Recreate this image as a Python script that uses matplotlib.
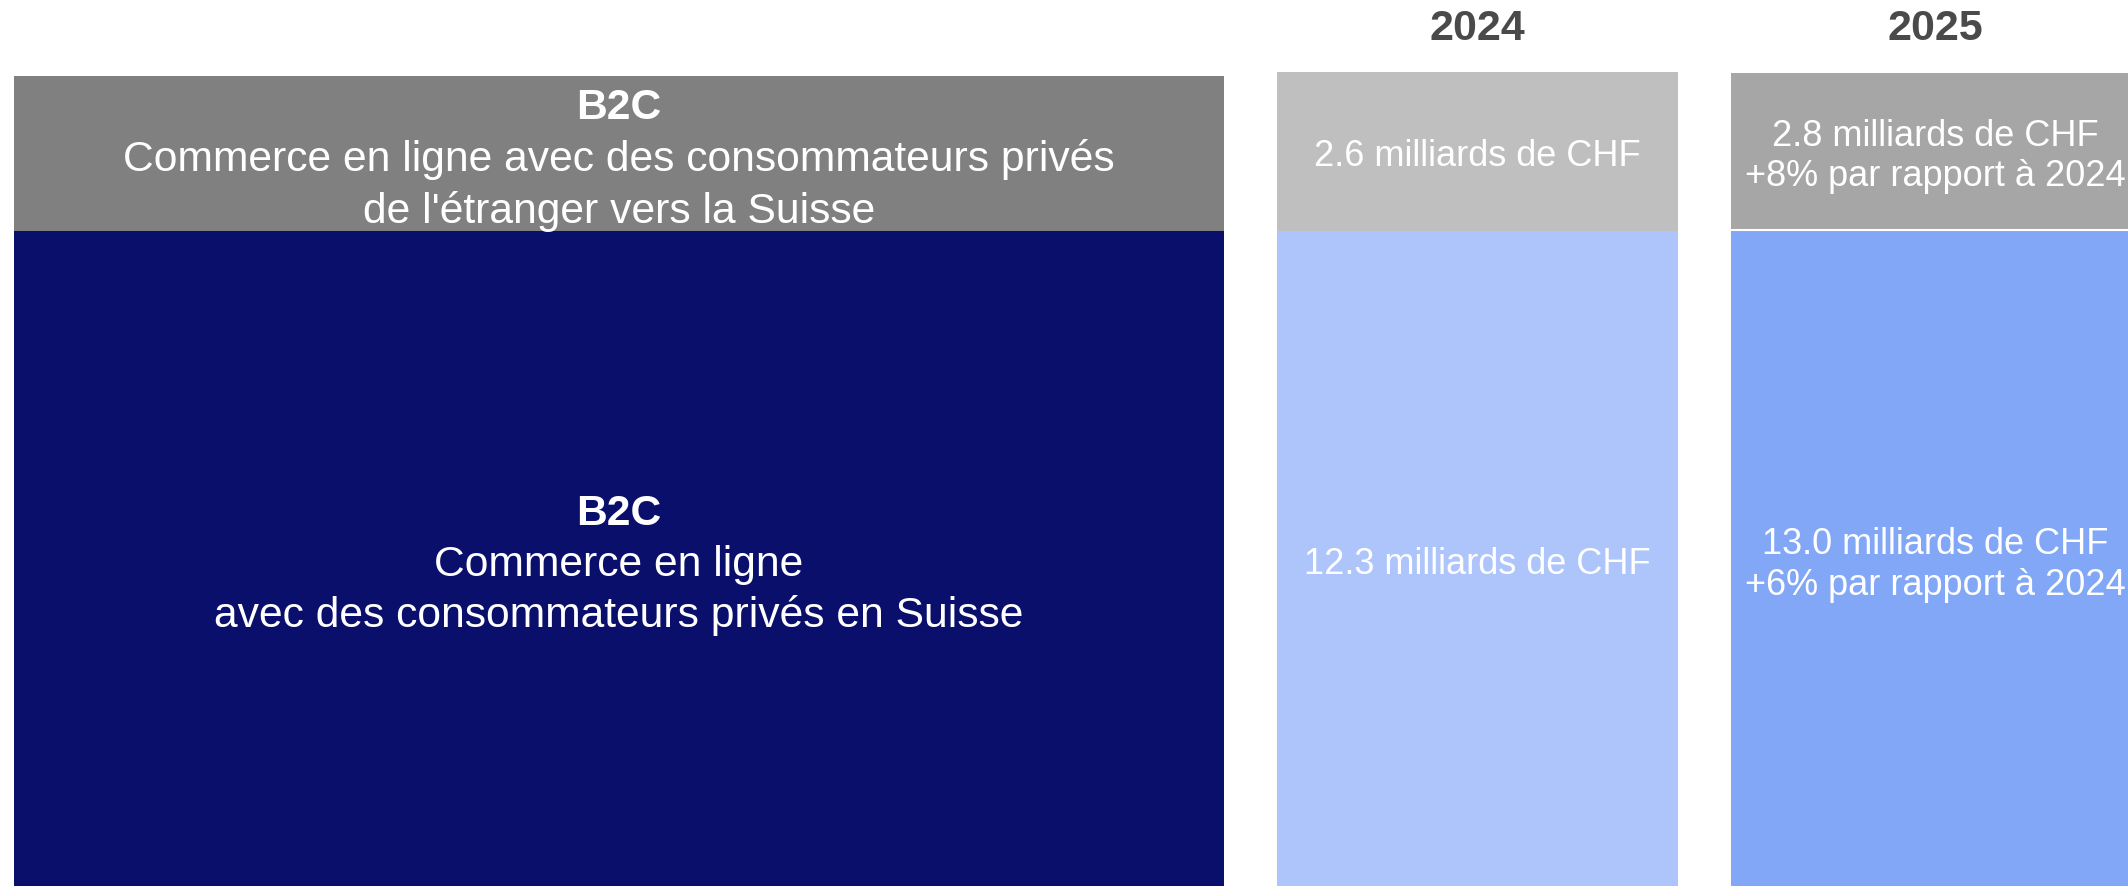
import matplotlib.pyplot as plt

# ---- data ----
years = ["2024", "2025"]
abroad_bn = [2.6, 2.8]          # B2C from abroad into Switzerland, bn CHF
domestic_bn = [12.3, 13.0]      # B2C within Switzerland, bn CHF
growth_abroad = [None, 8]       # % vs 2024
growth_domestic = [None, 6]

label_abroad = "B2C\nCommerce en ligne avec des consommateurs privés\nde l'étranger vers la Suisse"
label_domestic = "B2C\nCommerce en ligne\navec des consommateurs privés en Suisse"

# ---- layout (pixel space) ----
W, H = 2128, 887
split_y = 232
col_left = [1277, 1731]
col_width = [401, 409]
col_top = [73, 74]
col_gray = ["#BFBFBF", "#A6A6A6"]
col_blue = ["#ADC5FA", "#82A7F7"]

plt.rcParams['font.family'] = ['Liberation Sans', 'DejaVu Sans']

fig = plt.figure(figsize=(W / 100, H / 100), dpi=100)
ax = fig.add_axes([0, 0, 1, 1])
ax.set_xlim(0, W)
ax.set_ylim(H, 0)
ax.axis('off')

# left description panel
ax.bar(14, split_y - 77, bottom=77, width=1210, align='edge', color="#808080")
ax.bar(14, H - split_y, bottom=split_y, width=1210, align='edge', color="#0A0F6B")


def two_weight(x, y_top, text, size, step):
    lines = text.split("\n")
    ax.text(x, y_top, lines[0], ha='center', va='center', color='white',
            fontsize=size, fontweight='bold')
    for i, ln in enumerate(lines[1:]):
        ax.text(x, y_top + step * (i + 1), ln, ha='center', va='center',
                color='white', fontsize=size)


two_weight(619, 108, label_abroad, 30.7, 52)
two_weight(619, 514, label_domestic, 30.7, 51)

# year columns
for i, yr in enumerate(years):
    x0, w = col_left[i], col_width[i]
    cx = x0 + w / 2
    ax.bar(x0, split_y - col_top[i], bottom=col_top[i], width=w, align='edge',
           color=col_gray[i])
    ax.bar(x0, H - split_y, bottom=split_y, width=w, align='edge',
           color=col_blue[i])
    if i > 0:
        ax.plot([x0, x0 + w], [split_y - 1.5, split_y - 1.5], color='white', lw=1.5)

    ax.text(cx, 29, yr, ha='center', va='center', color='#4A4A4A',
            fontsize=31, fontweight='bold')

    t1 = f"{abroad_bn[i]:.1f} milliards de CHF"
    t2 = f"{domestic_bn[i]:.1f} milliards de CHF"
    if growth_abroad[i] is not None:
        t1 += f"\n+{growth_abroad[i]}% par rapport à {years[0]}"
        t2 += f"\n+{growth_domestic[i]}% par rapport à {years[0]}"
    for txt, ym in [(t1, 156.5), (t2, 565)]:
        ax.text(cx, ym, txt, ha='center', va='center', color='white',
                fontsize=26, linespacing=1.22)

fig.savefig("out.png", dpi=100)
